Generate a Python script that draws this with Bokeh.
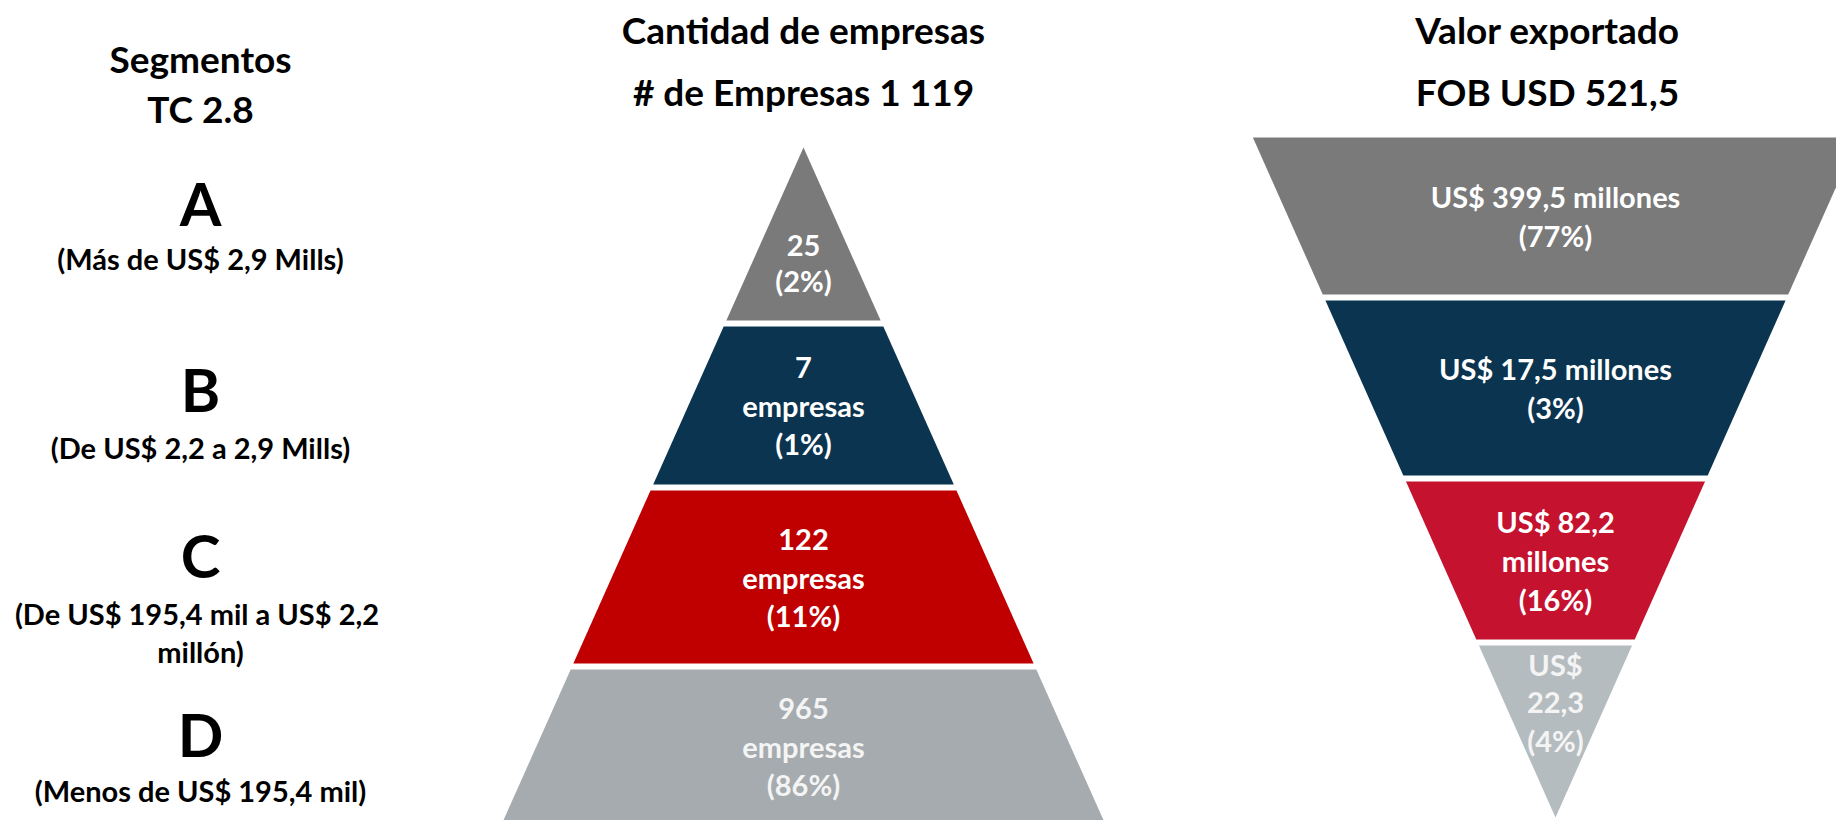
from bokeh.plotting import figure
from bokeh.models import ColumnDataSource, Range1d
from bokeh.embed import file_html
from bokeh.resources import INLINE
from bokeh.core.properties import value

# ---------------- data ----------------
segmentos = ["A", "B", "C", "D"]
rangos = [
    ["(Más de US$ 2,9 Mills)"],
    ["(De US$ 2,2 a 2,9 Mills)"],
    ["(De US$  195,4 mil a US$ 2,2", "millón)"],
    ["(Menos de US$ 195,4 mil)"],
]
empresas = [25, 7, 122, 965]
empresas_pct = [2, 1, 11, 86]
valor_mill = [399.5, 17.5, 82.2, 22.3]
valor_pct = [77, 3, 16, 4]
total_empresas = 1119
total_fob = 521.5
tipo_cambio = "2.8"

titulo_izq = "Segmentos"
titulo_emp = "Cantidad de empresas"
titulo_val = "Valor exportado"

# label line templates per segment
emp_templates = [["{n}", "({p}%)"], ["{n}", "empresas", "({p}%)"],
                 ["{n}", "empresas", "({p}%)"], ["{n}", "empresas", "({p}%)"]]
val_templates = [["US$ {v} millones", "({p}%)"], ["US$ {v} millones", "({p}%)"],
                 ["US$ {v}", "millones", "({p}%)"], ["US$", "{v}", "({p}%)"]]

# ---------------- styling / layout ----------------
FONT = value("Lato")
pyr_colors = ["#7a7a7a", "#0a344f", "#c00000", "#a5abae"]
fun_colors = ["#7a7a7a", "#0a344f", "#c4122f", "#b5bcbf"]
lbl_colors = ["#ffffff", "#ffffff", "#ffffff", "#f4f4f4"]

PYR_CX, PYR_APEX, PYR_SLOPE = 803, 147, 0.446
pyr_bands = [(147, 320), (326, 484), (490, 663), (669, 822)]
pyr_spacing = [35, 38, 38, 38]
FUN_CX, FUN_APEX, FUN_SLOPE = 1555, 817, 0.445
fun_bands = [(137, 294), (300, 475), (481, 639), (645, 817)]
fun_spacing = [39, 39, 39, 38]
LINE_H = 38
LBL_SIZE = 29
DESC_SIZE = 29
HEAD_SIZE = 37

W, H = 1836, 820
p = figure(width=W, height=H, output_backend="svg", toolbar_location=None,
           x_range=Range1d(0, W), y_range=Range1d(H, 0),
           min_border=0, outline_line_color=None)
p.axis.visible = False
p.grid.visible = False
p.background_fill_color = "white"
p.border_fill_color = "white"


def fmt_num(x):
    return f"{x:,}".replace(",", " ")


def fmt_dec(x):
    return f"{x:.1f}".replace(".", ",")


# ---------------- shapes ----------------
xs, ys, cols = [], [], []
for (t, b), c in zip(pyr_bands, pyr_colors):
    ht, hb = PYR_SLOPE * (t - PYR_APEX), PYR_SLOPE * (b - PYR_APEX)
    xs.append([PYR_CX - ht, PYR_CX + ht, PYR_CX + hb, PYR_CX - hb])
    ys.append([t, t, b, b])
    cols.append(c)
for (t, b), c in zip(fun_bands, fun_colors):
    ht, hb = FUN_SLOPE * (FUN_APEX - t), FUN_SLOPE * (FUN_APEX - b)
    xs.append([FUN_CX - ht, FUN_CX + ht, FUN_CX + hb, FUN_CX - hb])
    ys.append([t, t, b, b])
    cols.append(c)
p.patches(xs="xs", ys="ys", fill_color="c", line_color=None,
          source=ColumnDataSource(dict(xs=xs, ys=ys, c=cols)))


# ---------------- texts ----------------
def add_lines(x, yc, lines, size, color, spacing):
    n = len(lines)
    yy = [yc + (i - (n - 1) / 2) * spacing for i in range(n)]
    p.text(x=[x] * n, y=yy, text=lines, text_font=FONT, text_font_style="bold",
           text_font_size=f"{size}px", text_color=color,
           text_align="center", text_baseline="middle")


# segment labels inside pyramid
for i, (t, b) in enumerate(pyr_bands):
    yc = (t + 2 * b) / 3 if i == 0 else (t + b) / 2
    lines = [s.format(n=empresas[i], p=empresas_pct[i]) for s in emp_templates[i]]
    add_lines(PYR_CX, yc, lines, LBL_SIZE, lbl_colors[i], pyr_spacing[i])

# segment labels inside funnel
for i, (t, b) in enumerate(fun_bands):
    yc = (2 * t + b) / 3 if i == 3 else (t + b) / 2
    lines = [s.format(v=fmt_dec(valor_mill[i]), p=valor_pct[i]) for s in val_templates[i]]
    add_lines(FUN_CX, yc, lines, LBL_SIZE, lbl_colors[i], fun_spacing[i])

# headers
add_lines(PYR_CX, 29, [titulo_emp], HEAD_SIZE, "#000000", 0)
add_lines(PYR_CX, 91, [f"# de Empresas {fmt_num(total_empresas)}"], HEAD_SIZE, "#000000", 0)
add_lines(FUN_CX - 8, 29, [titulo_val], HEAD_SIZE, "#000000", 0)
add_lines(FUN_CX - 8, 91, [f"FOB USD {fmt_dec(total_fob)}"], HEAD_SIZE, "#000000", 0)
add_lines(200, 83, [titulo_izq, f"TC {tipo_cambio}"], HEAD_SIZE, "#000000", 50)

# left segment column
letter_y = [202, 388, 554, 733]
desc_y = [258, 447, 632, 790]
for i in range(4):
    add_lines(200, letter_y[i], [segmentos[i]], 60, "#000000", 0)
    add_lines(200, desc_y[i], rangos[i], DESC_SIZE, "#000000", LINE_H)

open("out.html", "w").write(file_html(p, INLINE))
